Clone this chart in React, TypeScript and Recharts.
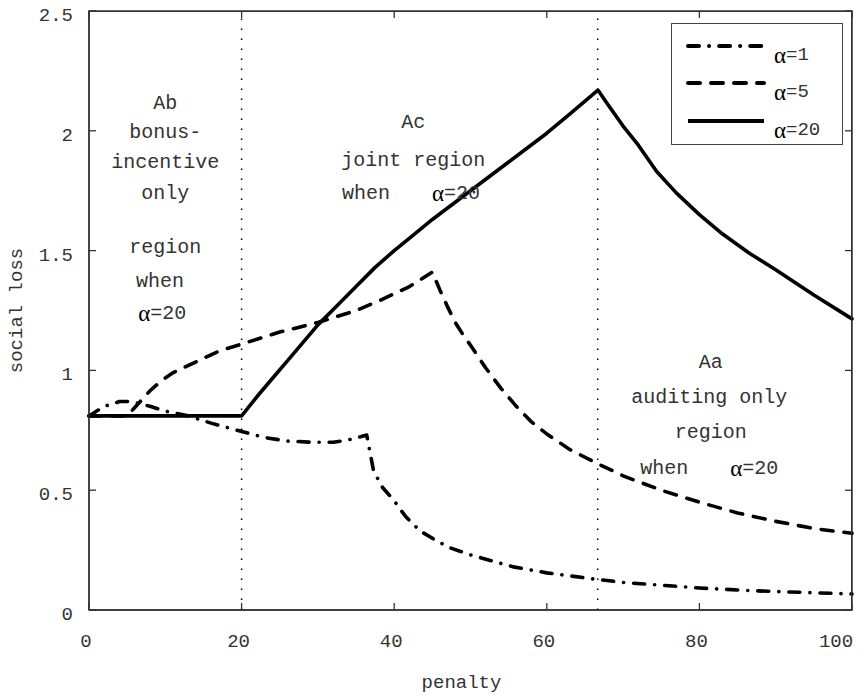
import React from "react";
import {
  LineChart, Line, XAxis, YAxis, ReferenceLine, ReferenceDot, ReferenceArea, Legend, Label,
} from "recharts";

const MONO = '"Liberation Mono", "DejaVu Sans Mono", monospace';
const SERIF = '"Liberation Serif", "DejaVu Serif", serif';
const INK = "#333";
const FRAME = "#333";

const xTicks = [0, 20, 40, 60, 80, 100];
const yTicks = [0, 0.5, 1, 1.5, 2, 2.5];
const xMax = 100;
const yMax = 2.5;
const regionBounds = [20, 66.67];

// alpha = 1 (dash-dot)
const alpha1 = [
  { x: 0, y: 0.81 }, { x: 2, y: 0.85 }, { x: 4, y: 0.87 }, { x: 5.5, y: 0.87 },
  { x: 8, y: 0.85 }, { x: 10, y: 0.83 }, { x: 13, y: 0.81 }, { x: 16, y: 0.78 },
  { x: 20, y: 0.745 }, { x: 23, y: 0.72 }, { x: 26, y: 0.705 }, { x: 29.4, y: 0.70 },
  { x: 32, y: 0.70 }, { x: 34, y: 0.71 }, { x: 36.4, y: 0.73 }, { x: 37.3, y: 0.58 },
  { x: 38.5, y: 0.51 }, { x: 39.9, y: 0.46 }, { x: 41.5, y: 0.39 }, { x: 43.4, y: 0.33 },
  { x: 45.5, y: 0.29 }, { x: 47.3, y: 0.26 }, { x: 50, y: 0.23 }, { x: 55.6, y: 0.18 },
  { x: 60, y: 0.155 }, { x: 66, y: 0.13 }, { x: 70, y: 0.115 }, { x: 76.5, y: 0.10 },
  { x: 80, y: 0.092 }, { x: 85.3, y: 0.083 }, { x: 90, y: 0.077 }, { x: 95, y: 0.072 },
  { x: 100, y: 0.067 },
];

// alpha = 5 (dashed)
const alpha5 = [
  { x: 0, y: 0.81 }, { x: 5, y: 0.81 }, { x: 6, y: 0.845 }, { x: 7, y: 0.88 },
  { x: 8, y: 0.915 }, { x: 9.4, y: 0.955 }, { x: 11, y: 0.99 }, { x: 14.3, y: 1.04 },
  { x: 17, y: 1.08 }, { x: 20, y: 1.11 }, { x: 25, y: 1.16 }, { x: 30, y: 1.20 },
  { x: 35, y: 1.25 }, { x: 38, y: 1.29 }, { x: 42, y: 1.35 }, { x: 45, y: 1.41 },
  { x: 46, y: 1.335 }, { x: 47, y: 1.265 }, { x: 48, y: 1.20 }, { x: 49, y: 1.15 },
  { x: 50, y: 1.105 }, { x: 52, y: 1.01 }, { x: 54, y: 0.925 }, { x: 56, y: 0.85 },
  { x: 58, y: 0.785 }, { x: 60, y: 0.735 }, { x: 63, y: 0.67 }, { x: 66.7, y: 0.61 },
  { x: 70, y: 0.56 }, { x: 75, y: 0.50 }, { x: 80, y: 0.45 }, { x: 85, y: 0.405 },
  { x: 90, y: 0.37 }, { x: 95, y: 0.34 }, { x: 100, y: 0.32 },
];

// alpha = 20 (solid)
const alpha20 = [
  { x: 0, y: 0.81 }, { x: 20, y: 0.81 }, { x: 22, y: 0.89 }, { x: 24, y: 0.965 },
  { x: 26, y: 1.04 }, { x: 28, y: 1.115 }, { x: 30, y: 1.19 }, { x: 32.5, y: 1.27 },
  { x: 35, y: 1.35 }, { x: 37.5, y: 1.43 }, { x: 40, y: 1.50 }, { x: 42.5, y: 1.565 },
  { x: 45, y: 1.63 }, { x: 50, y: 1.75 }, { x: 55, y: 1.87 }, { x: 60, y: 1.99 },
  { x: 63, y: 2.07 }, { x: 66.7, y: 2.17 }, { x: 68, y: 2.11 }, { x: 70, y: 2.02 },
  { x: 72, y: 1.94 }, { x: 74.4, y: 1.83 }, { x: 77, y: 1.74 }, { x: 80, y: 1.65 },
  { x: 83, y: 1.57 }, { x: 86.5, y: 1.49 }, { x: 90, y: 1.42 }, { x: 95, y: 1.315 },
  { x: 100, y: 1.215 },
];

const series = [
  { key: "a1", label: "=1", data: alpha1, dash: "11 10 0.1 10" },
  { key: "a5", label: "=5", data: alpha5, dash: "12 11" },
  { key: "a20", label: "=20", data: alpha20, dash: undefined },
];

// region notes, one entry per text line (data coords)
const notes = [
  { x: 10, y: 2.116, text: "Ab" },
  { x: 10, y: 1.991, text: "bonus-" },
  { x: 10, y: 1.866, text: "incentive" },
  { x: 10, y: 1.740, text: "only" },
  { x: 10, y: 1.515, text: "region" },
  { x: 9.3, y: 1.373, text: "when" },
  { x: 9.6, y: 1.240, text: "α=20" },
  { x: 42.5, y: 2.033, text: "Ac" },
  { x: 42.5, y: 1.878, text: "joint region" },
  { x: 42.2, y: 1.740, text: "when    α=20" },
  { x: 81.5, y: 1.031, text: "Aa" },
  { x: 81.3, y: 0.885, text: "auditing only" },
  { x: 81.5, y: 0.739, text: "region" },
  { x: 81.3, y: 0.593, text: "when    α=20" },
];

function NoteText({ viewBox, text }: any) {
  const x = viewBox.x + (viewBox.width || 0) / 2;
  const y = viewBox.y + (viewBox.height || 0) / 2;
  const i = text.indexOf("α");
  if (i < 0) {
    return (
      <text x={x} y={y} textAnchor="middle" dominantBaseline="central"
        fontFamily={MONO} fontSize={20} fill={INK}>{text}</text>
    );
  }
  const before = text.slice(0, i).trim();
  const after = text.slice(i + 1);
  return (
    <text x={x} y={y} textAnchor="middle" dominantBaseline="central" fill={INK}>
      {before && <tspan fontFamily={MONO} fontSize={20}>{before}</tspan>}
      <tspan dx={before ? 42 : 0} fontFamily={SERIF} fontSize={23} fill="#000">α</tspan>
      <tspan fontFamily={MONO} fontSize={20}>{after}</tspan>
    </text>
  );
}

function XTick({ x, y, payload }: any) {
  // last label is pulled in so it stays inside the frame
  const last = payload.value === xMax;
  return (
    <text x={last ? x - 16 : x - 3} y={y} textAnchor="middle" dominantBaseline="central"
      fontFamily={MONO} fontSize={19} fill={INK}>{payload.value}</text>
  );
}

function YTick({ x, y, payload }: any) {
  return (
    <text x={x} y={y + 5} textAnchor="end" dominantBaseline="central"
      fontFamily={MONO} fontSize={19} fill={INK}>{payload.value}</text>
  );
}

// frame rectangle around the plot, with inward ticks on the top and right sides
function FrameShape({ x, y, width, height }: any) {
  return (
    <g>
      <rect x={x} y={y} width={width} height={height} fill="none"
        stroke={FRAME} strokeWidth={1.5} />
      {xTicks.map(t => {
        const px = x + (width * t) / xMax;
        return <line key={`t${t}`} x1={px} x2={px} y1={y} y2={y + 7} stroke={FRAME} strokeWidth={1.3} />;
      })}
      {yTicks.map(t => {
        const py = y + height - (height * t) / yMax;
        return <line key={`r${t}`} x1={x + width - 7} x2={x + width} y1={py} y2={py} stroke={FRAME} strokeWidth={1.3} />;
      })}
    </g>
  );
}

function LegendBox() {
  const rows = [22, 59, 97];
  return (
    <div style={{
      width: 172, height: 122, border: "1.3px solid #444", background: "#fff",
      boxSizing: "border-box",
    }}>
      <svg width={170} height={120}>
        {series.map((s, i) => (
          <g key={s.key}>
            <line x1={16} x2={92} y1={rows[i]} y2={rows[i]} stroke="#000"
              strokeWidth={4} strokeDasharray={s.dash} strokeLinecap={s.dash ? "round" : "butt"} />
            <text x={102} y={rows[i] + 9} dominantBaseline="central" fill={INK}>
              <tspan fontFamily={SERIF} fontSize={23} fill="#000">α</tspan>
              <tspan fontFamily={MONO} fontSize={19}>{s.label}</tspan>
            </text>
          </g>
        ))}
      </svg>
    </div>
  );
}

export default function App() {
  return (
    <div style={{ position: "absolute", left: 0, top: 0, width: 864, height: 697, background: "#fff" }}>
      <LineChart width={864} height={697} margin={{ top: 11, right: 12, bottom: 0, left: 0 }}>
        <XAxis dataKey="x" type="number" domain={[0, xMax]} ticks={xTicks} interval={0}
          height={87} tickSize={-7} tickMargin={39} tick={<XTick />}
          stroke={FRAME} strokeWidth={1.3} allowDuplicatedCategory={false}>
          <Label content={({ viewBox }: any) => (
            <text x={viewBox.x + viewBox.width / 2 - 9} y={viewBox.y + 73}
              textAnchor="middle" dominantBaseline="central"
              fontFamily={MONO} fontSize={19} fill={INK}>penalty</text>
          )} />
        </XAxis>
        <YAxis type="number" domain={[0, yMax]} ticks={yTicks} interval={0} width={89}
          tickSize={-7} tickMargin={23} tick={<YTick />} stroke={FRAME} strokeWidth={1.3}>
          <Label content={({ viewBox }: any) => {
            const cx = viewBox.x + 17;
            const cy = viewBox.y + viewBox.height / 2;
            return (
              <text x={cx} y={cy} transform={`rotate(-90 ${cx} ${cy})`}
                textAnchor="middle" dominantBaseline="central"
                fontFamily={MONO} fontSize={19} fill={INK}>social loss</text>
            );
          }} />
        </YAxis>

        <ReferenceArea x1={0} x2={xMax} y1={0} y2={yMax} ifOverflow="visible"
          fill="none" stroke={FRAME} shape={<FrameShape />} />

        {regionBounds.map(b => (
          <ReferenceLine key={b} x={b} stroke="#000" strokeWidth={1.5} strokeDasharray="1.5 8.5" />
        ))}

        {series.map(s => (
          <Line key={s.key} data={s.data} dataKey="y" type="linear" stroke="#000"
            strokeWidth={3.6} strokeDasharray={s.dash} strokeLinecap="round"
            strokeLinejoin="round" dot={false} activeDot={false} isAnimationActive={false} />
        ))}

        {notes.map((n, i) => (
          <ReferenceDot key={i} x={n.x} y={n.y} r={0} fill="none" stroke="none"
            label={<NoteText text={n.text} />} />
        ))}

        <Legend layout="vertical" align="center" verticalAlign="middle"
          wrapperStyle={{ left: 671, top: 23, width: 172 }} content={<LegendBox />} />
      </LineChart>
      {/* top and right edges of the axes box */}
      <div style={{
        position: "absolute", left: 89, top: 11, width: 763, height: 599,
        borderTop: "1.5px solid #333", borderRight: "1.5px solid #333",
        boxSizing: "border-box", pointerEvents: "none",
      }} />
    </div>
  );
}
